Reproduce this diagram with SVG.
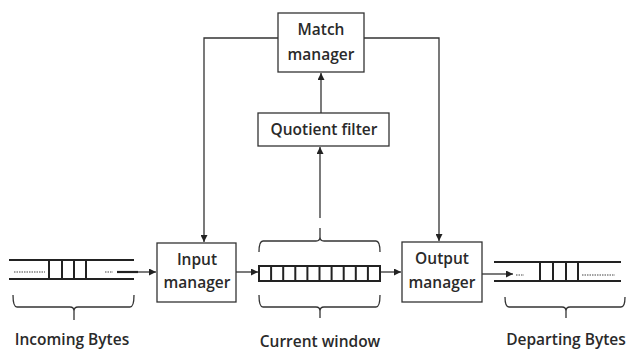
<svg xmlns="http://www.w3.org/2000/svg" width="627" height="351" viewBox="0 0 627 351">
<defs>
<marker id="ah" viewBox="0 0 10 10" refX="10" refY="5" markerWidth="7" markerHeight="7" markerUnits="userSpaceOnUse" orient="auto">
<path d="M0,0 L10,5 L0,10 Z" fill="#222"/>
</marker>
</defs>
<style>
.box{fill:#fff;stroke:#333;stroke-width:1.3}
.ln{fill:none;stroke:#333;stroke-width:1.3}
.q{fill:none;stroke:#222;stroke-width:2}
.cell{fill:#fff;stroke:#222;stroke-width:2}
.br{fill:none;stroke:#333;stroke-width:1.3}
.dot{fill:none;stroke:#444;stroke-width:1.2;stroke-dasharray:1.5 1}
.t{font-family:"Open Sans","Liberation Sans",sans-serif;font-weight:600;font-size:15.5px;fill:#2a2a2a;text-anchor:middle}
</style>
<rect width="627" height="351" fill="#fff"/>
<g id="connectors">
<polyline class="ln" points="278,38 204,38 204,242" marker-end="url(#ah)"/>
<polyline class="ln" points="364,38 439,38 439,241" marker-end="url(#ah)"/>
<line class="ln" x1="321" y1="113" x2="321" y2="73" marker-end="url(#ah)"/>
<line class="ln" x1="320" y1="218" x2="320" y2="147" marker-end="url(#ah)"/>
<line class="ln" x1="236" y1="272" x2="258" y2="272" marker-end="url(#ah)"/>
<line class="ln" x1="380" y1="272" x2="401" y2="272" marker-end="url(#ah)"/>
<line class="ln" x1="137" y1="272" x2="156" y2="272" marker-end="url(#ah)"/>
<line class="ln" x1="482" y1="274" x2="513" y2="274" marker-end="url(#ah)"/>
</g>
<g id="match-manager">
<rect class="box" x="278" y="13" width="86" height="59"/>
<text class="t" x="321" y="35">Match</text>
<text class="t" x="321" y="60">manager</text>
</g>
<g id="quotient-filter">
<rect class="box" x="258" y="113" width="131" height="33"/>
<text class="t" x="324" y="135">Quotient filter</text>
</g>
<g id="input-manager">
<rect class="box" x="157" y="243" width="79" height="59"/>
<text class="t" x="197" y="265">Input</text>
<text class="t" x="197" y="288">manager</text>
</g>
<g id="output-manager">
<rect class="box" x="402" y="242" width="80" height="60"/>
<text class="t" x="442" y="264">Output</text>
<text class="t" x="442" y="288">manager</text>
</g>
<g id="incoming-bytes">
<line class="q" x1="9" y1="260" x2="134" y2="260"/>
<line class="q" x1="9" y1="279" x2="134" y2="279"/>
<line class="q" x1="49" y1="260" x2="49" y2="279"/>
<line class="q" x1="62" y1="260" x2="62" y2="279"/>
<line class="q" x1="74" y1="260" x2="74" y2="279"/>
<line class="q" x1="86" y1="260" x2="86" y2="279"/>
<line class="dot" x1="14" y1="272" x2="45" y2="272"/>
<line class="dot" x1="105" y1="272" x2="113" y2="272"/>
<line stroke="#222" stroke-width="2.2" x1="117" y1="272" x2="138" y2="272"/>
<path class="br" d="M13,295 Q13,307 17,307 L70,307 Q74,307 74,311 L74,320 M74,311 Q74,307 78,307 L130,307 Q134,307 134,295"/>
<text class="t" x="72" y="345">Incoming Bytes</text>
</g>
<g id="current-window">
<rect class="cell" x="259" y="266" width="121" height="15"/>
<line class="q" x1="271.1" y1="266" x2="271.1" y2="281"/>
<line class="q" x1="283.2" y1="266" x2="283.2" y2="281"/>
<line class="q" x1="295.3" y1="266" x2="295.3" y2="281"/>
<line class="q" x1="307.4" y1="266" x2="307.4" y2="281"/>
<line class="q" x1="319.5" y1="266" x2="319.5" y2="281"/>
<line class="q" x1="331.6" y1="266" x2="331.6" y2="281"/>
<line class="q" x1="343.7" y1="266" x2="343.7" y2="281"/>
<line class="q" x1="355.8" y1="266" x2="355.8" y2="281"/>
<line class="q" x1="367.9" y1="266" x2="367.9" y2="281"/>
<path class="br" d="M259,252 Q259,241 263,241 L316,241 Q320,241 320,237 L320,228 M320,237 Q320,241 324,241 L376,241 Q380,241 380,252"/>
<path class="br" d="M259,295 Q259,307 263,307 L316,307 Q320,307 320,311 L320,318 M320,311 Q320,307 324,307 L376,307 Q380,307 380,295"/>
<text class="t" x="320" y="347">Current window</text>
</g>
<g id="departing-bytes">
<line class="q" x1="494" y1="262" x2="621" y2="262"/>
<line class="q" x1="494" y1="281" x2="621" y2="281"/>
<line class="q" x1="540" y1="262" x2="540" y2="281"/>
<line class="q" x1="553" y1="262" x2="553" y2="281"/>
<line class="q" x1="566" y1="262" x2="566" y2="281"/>
<line class="q" x1="578" y1="262" x2="578" y2="281"/>
<line class="dot" x1="516" y1="275" x2="524" y2="275"/>
<line class="dot" x1="582" y1="275" x2="615" y2="275"/>
<path class="br" d="M505,297 Q505,307 509,307 L562,307 Q566,307 566,311 L566,318 M566,311 Q566,307 570,307 L621,307 Q625,307 625,297"/>
<text class="t" x="566" y="345">Departing Bytes</text>
</g>
</svg>
